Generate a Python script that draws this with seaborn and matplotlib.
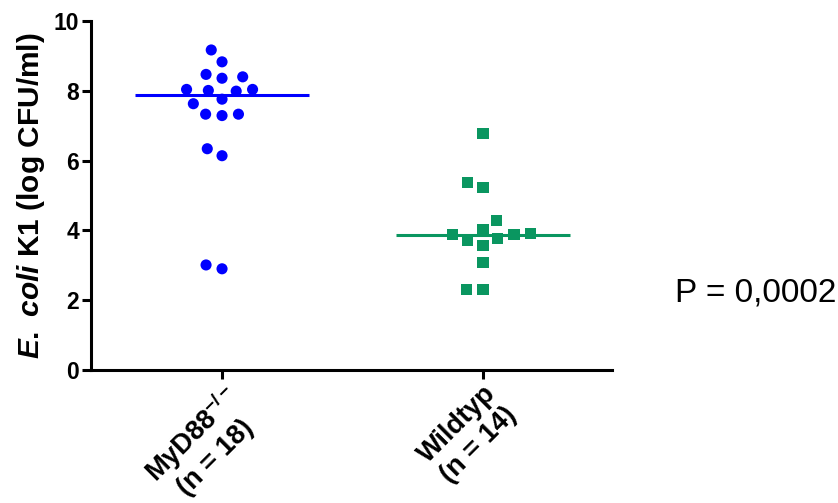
import numpy as np
import pandas as pd
import matplotlib
matplotlib.use("Agg")
import matplotlib.pyplot as plt
import seaborn as sns

groups = ["MyD88", "Wildtyp"]
tick_labels = ["MyD88$^{\\mathbf{-/-}}$\n(n = 18)", "Wildtyp\n(n = 14)"]
myd88_values = [9.17, 8.83, 8.47, 8.36, 8.40, 8.04, 7.99, 8.01, 8.04, 7.76,
                7.63, 7.33, 7.29, 7.33, 6.34, 6.14, 2.90, 3.01]
wildtyp_values = [6.78, 5.24, 5.38, 4.28, 4.03, 3.89, 3.78, 3.58, 3.72, 3.87,
                  3.90, 3.09, 2.31, 2.31]
colors = ["#0000FF", "#0A9660"]
markers = ["o", "s"]
p_text = "P = 0,0002"

sns.set_style("ticks")
plt.rcParams["font.family"] = ["Liberation Sans", "DejaVu Sans"]
plt.rcParams["text.color"] = "black"
plt.rcParams["axes.labelcolor"] = "black"
plt.rcParams["xtick.color"] = "black"
plt.rcParams["ytick.color"] = "black"
plt.rcParams["axes.edgecolor"] = "black"
plt.rcParams["mathtext.fontset"] = "custom"
plt.rcParams["mathtext.rm"] = "Liberation Sans:bold"
plt.rcParams["mathtext.bf"] = "Liberation Sans:bold"
plt.rcParams["mathtext.it"] = "Liberation Sans:italic:bold"
plt.rcParams["mathtext.bfit"] = "Liberation Sans:italic:bold"

df = pd.DataFrame({
    "group": [groups[0]] * len(myd88_values) + [groups[1]] * len(wildtyp_values),
    "value": myd88_values + wildtyp_values,
})

fig = plt.figure(figsize=(8.38, 5.03), dpi=100)
ax = fig.add_axes([91 / 838, 1 - 370 / 503, (612 - 91) / 838, (370 - 21) / 503])

for g, c, m in zip(groups, colors, markers):
    sub = df[df["group"] == g]
    sns.swarmplot(data=sub, x="group", y="value", order=groups, color=c,
                  marker=m, size=8, linewidth=3.3, edgecolor="none",
                  ax=ax, zorder=3)

for i, (g, c) in enumerate(zip(groups, colors)):
    med = np.median(df[df["group"] == g]["value"])
    ax.hlines(med, i - 0.335, i + 0.335, color=c, lw=2.2, zorder=4)

ax.set_xlim(-0.502, 1.494)
ax.set_ylim(0, 10)
ax.set_yticks([0, 2, 4, 6, 8, 10])
ax.set_xticks([0, 1])
ax.set_xticklabels(tick_labels, rotation=45, ha="right", va="top",
                   rotation_mode="anchor", multialignment="center",
                   fontsize=19.5, fontweight="bold", linespacing=1.15)
for lab in ax.get_yticklabels():
    lab.set_fontweight("bold")
    lab.set_fontsize(16.5)
ax.set_xlabel("")
ax.set_ylabel(r"$\mathit{E.\ coli}$ K1 (log CFU/ml)", fontsize=21.5,
              fontweight="bold", labelpad=5)
sns.despine(ax=ax)
for s in ["left", "bottom"]:
    ax.spines[s].set_linewidth(2.2)
ax.tick_params(width=2.2, length=6.5, colors="black")
ax.tick_params(axis="x", pad=1)
ax.tick_params(axis="y", pad=2)

fig.text(675 / 838, 1 - 293 / 503, p_text, fontsize=24, va="center", ha="left")

fig.savefig("out.png", dpi=100)
